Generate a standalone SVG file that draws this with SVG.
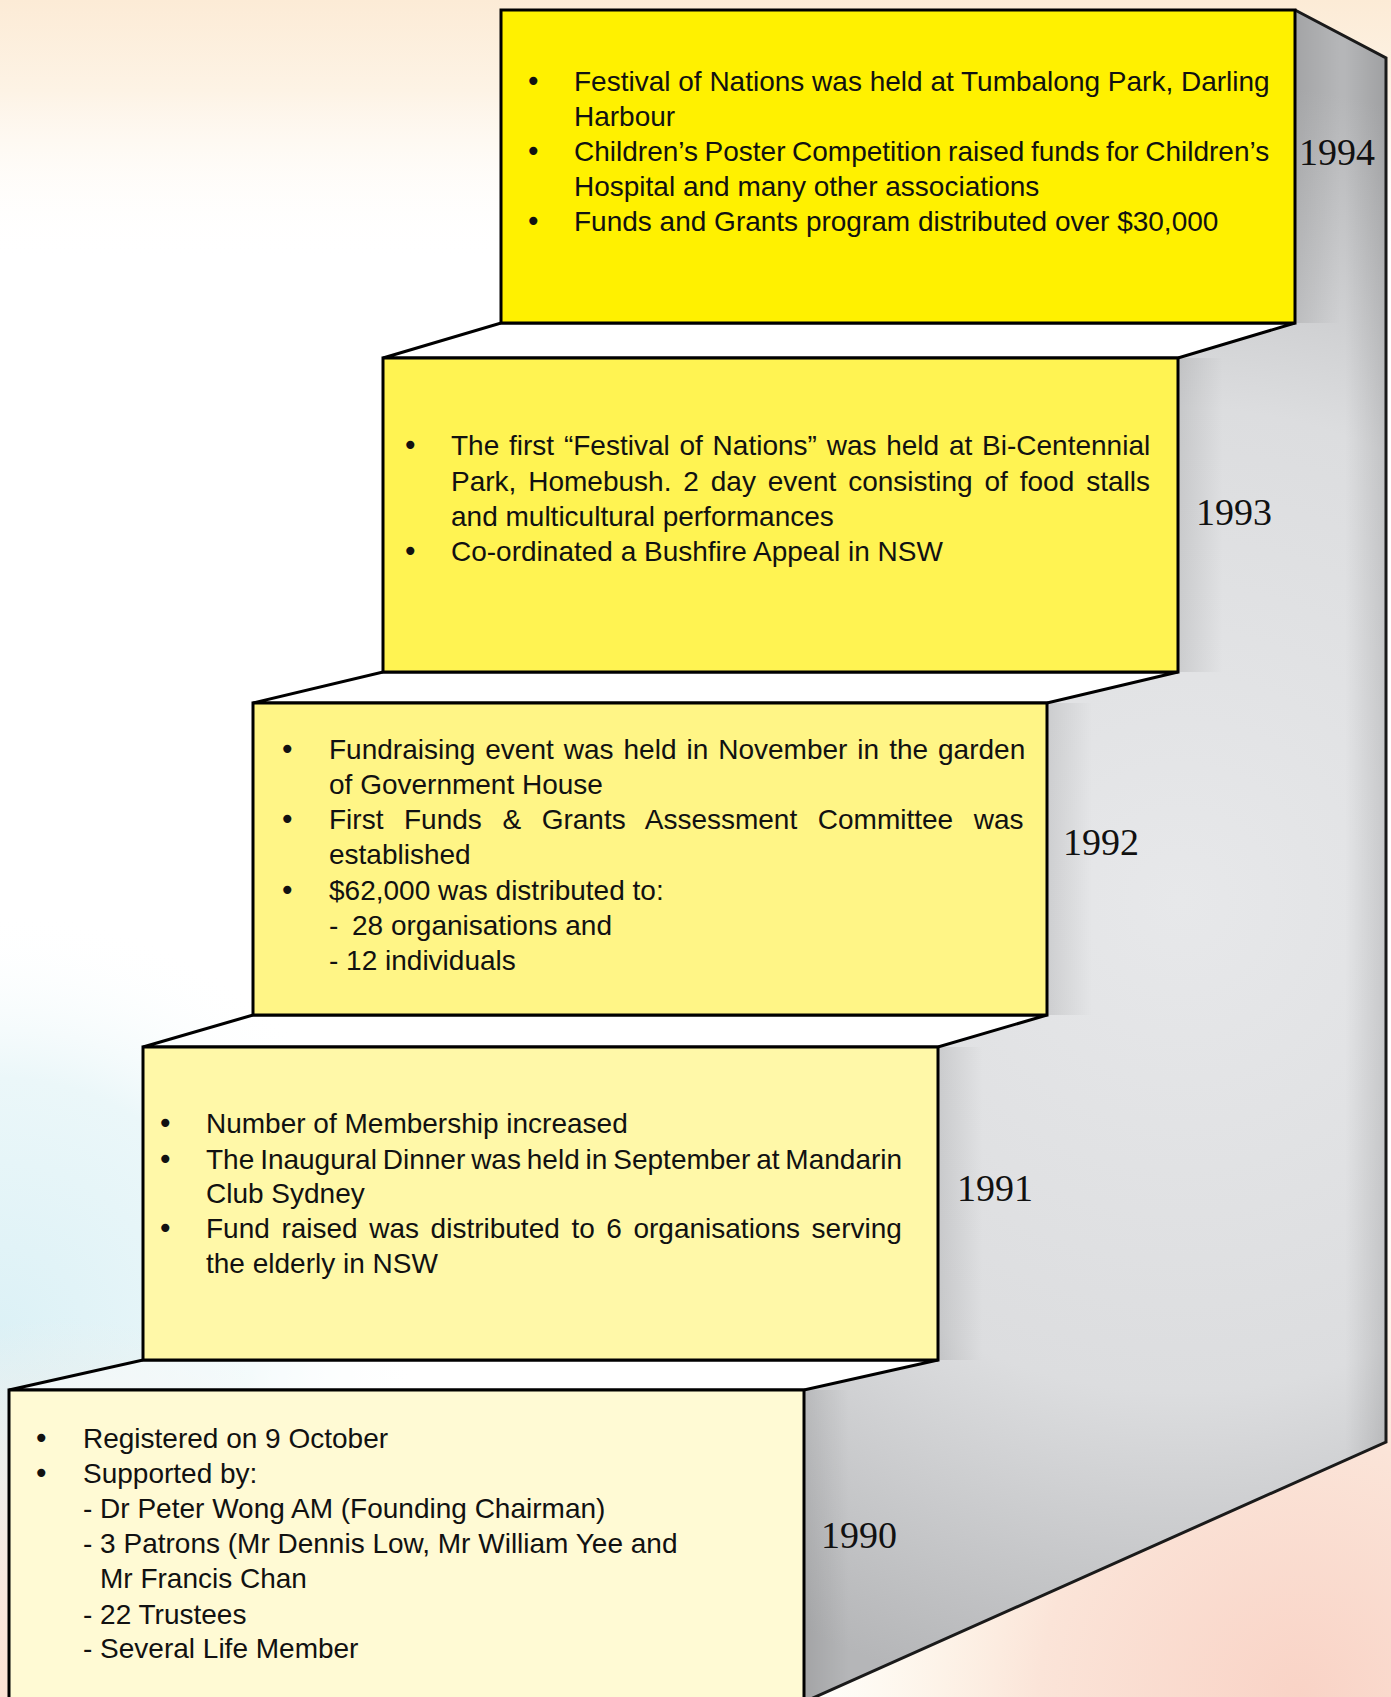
<svg xmlns="http://www.w3.org/2000/svg" width="1391" height="1697" viewBox="0 0 1391 1697">
<defs>
<linearGradient id="bgTop" x1="0" y1="0" x2="0" y2="1">
<stop offset="0" stop-color="#fcebd6"/>
<stop offset="0.35" stop-color="#fdf3e5"/>
<stop offset="1" stop-color="#ffffff" stop-opacity="0"/>
</linearGradient>
<radialGradient id="bgLeft" cx="0" cy="1330" r="420" gradientUnits="userSpaceOnUse">
<stop offset="0" stop-color="#dcf1f6"/>
<stop offset="0.6" stop-color="#ebf7f9"/>
<stop offset="1" stop-color="#ffffff" stop-opacity="0"/>
</radialGradient>
<radialGradient id="bgBL" cx="60" cy="1697" r="380" gradientUnits="userSpaceOnUse">
<stop offset="0" stop-color="#fcdccb"/>
<stop offset="1" stop-color="#fde8dc" stop-opacity="0"/>
</radialGradient>
<radialGradient id="bgBR" cx="1300" cy="1697" r="520" gradientUnits="userSpaceOnUse">
<stop offset="0" stop-color="#f9d3c6"/>
<stop offset="0.5" stop-color="#fbe4d8"/>
<stop offset="1" stop-color="#fdf6dc" stop-opacity="0"/>
</radialGradient>
<radialGradient id="side" cx="1180" cy="900" r="820" gradientUnits="userSpaceOnUse">
<stop offset="0" stop-color="#e7e8ea"/>
<stop offset="0.6" stop-color="#dcdddf"/>
<stop offset="1" stop-color="#b5b6b8"/>
</radialGradient>
<linearGradient id="rightEdge" x1="0" y1="0" x2="1" y2="0">
<stop offset="0" stop-color="#000" stop-opacity="0"/>
<stop offset="1" stop-color="#000" stop-opacity="0.12"/>
</linearGradient>
<linearGradient id="shade" x1="0" y1="0" x2="1" y2="0">
<stop offset="0" stop-color="#000" stop-opacity="0.1"/>
<stop offset="1" stop-color="#000" stop-opacity="0"/>
</linearGradient>
<clipPath id="sideClip">
<polygon points="1295,10 1386,58 1386,1442 804,1702 804,1390 938,1360 938,1047 1047,1015 1047,703 1178,672 1178,358 1295,323"/>
</clipPath>
<style>
.box{stroke:#000;stroke-width:3}
.tread{fill:#ffffff;fill-opacity:0.45;stroke:#000;stroke-width:3;stroke-linejoin:miter}
.t{font-family:"Liberation Sans",Arial,sans-serif;font-size:28px;fill:#111}
.b{font-family:"DejaVu Sans",sans-serif;font-size:28px;fill:#111}
.yr{font-family:"Liberation Serif","Times New Roman",serif;font-size:38px;fill:#111}
</style>
</defs>

<g id="background">
<rect x="0" y="0" width="1391" height="1697" fill="#ffffff"/>
<rect x="0" y="0" width="1391" height="260" fill="url(#bgTop)"/>
<rect x="0" y="800" width="500" height="897" fill="url(#bgLeft)"/>
<rect x="0" y="1300" width="500" height="397" fill="url(#bgBL)"/>
<rect x="700" y="1150" width="691" height="547" fill="url(#bgBR)"/>
</g>

<g id="side-face">
<polygon points="1295,10 1386,58 1386,1442 804,1702 804,1390 938,1360 938,1047 1047,1015 1047,703 1178,672 1178,358 1295,323" fill="url(#side)"/>
<g clip-path="url(#sideClip)">
<polygon points="1345,30 1386,58 1386,1442 1345,1462" fill="url(#rightEdge)"/>
<rect x="1295" y="10" width="45" height="313" fill="url(#shade)"/>
<rect x="1178" y="358" width="45" height="314" fill="url(#shade)"/>
<rect x="1047" y="703" width="45" height="312" fill="url(#shade)"/>
<rect x="938" y="1047" width="45" height="313" fill="url(#shade)"/>
<rect x="804" y="1390" width="45" height="312" fill="url(#shade)"/>
</g>
<path d="M1295,10 L1386,58 L1386,1442 L804,1702" fill="none" stroke="#1a1a1a" stroke-width="3"/>
</g>

<g id="connectors">
<polygon class="tread" points="383,358 501,323 1295,323 1178,358"/>
<polygon class="tread" points="253,703 383,672 1178,672 1047,703"/>
<polygon class="tread" points="143,1047 253,1015 1047,1015 938,1047"/>
<polygon class="tread" points="9,1390 143,1360 938,1360 804,1390"/>
</g>

<g id="step-1994">
<rect class="box" x="501" y="10" width="794" height="313" fill="#fff100"/>
<text class="b" x="525" y="91">•</text>
<text class="t" x="574" y="91">Festival of Nations was held at Tumbalong Park, Darling</text>
<text class="t" x="574" y="126">Harbour</text>
<text class="b" x="525" y="161">•</text>
<text class="t" x="574" y="161" word-spacing="-1.2">Children’s Poster Competition raised funds for Children’s</text>
<text class="t" x="574" y="196">Hospital and many other associations</text>
<text class="b" x="525" y="231">•</text>
<text class="t" x="574" y="231">Funds and Grants program distributed over $30,000</text>
<text class="yr" x="1299" y="165">1994</text>
</g>

<g id="step-1993">
<rect class="box" x="383" y="358" width="795" height="314" fill="#fff352"/>
<text class="b" x="402" y="455">•</text>
<text class="t" x="451" y="455" word-spacing="2">The first “Festival of Nations” was held at Bi-Centennial</text>
<text class="t" x="451" y="491" word-spacing="4.1">Park, Homebush. 2 day event consisting of food stalls</text>
<text class="t" x="451" y="526">and multicultural performances</text>
<text class="b" x="402" y="561">•</text>
<text class="t" x="451" y="561">Co-ordinated a Bushfire Appeal in NSW</text>
<text class="yr" x="1196" y="525">1993</text>
</g>

<g id="step-1992">
<rect class="box" x="253" y="703" width="794" height="312" fill="#fff586"/>
<text class="b" x="279" y="759">•</text>
<text class="t" x="329" y="759" word-spacing="2.2">Fundraising event was held in November in the garden</text>
<text class="t" x="329" y="794">of Government House</text>
<text class="b" x="279" y="829">•</text>
<text class="t" x="329" y="829" word-spacing="12.8">First Funds &amp; Grants Assessment Committee was</text>
<text class="t" x="329" y="864">established</text>
<text class="b" x="279" y="900">•</text>
<text class="t" x="329" y="900">$62,000 was distributed to:</text>
<text class="t" x="329" y="935">-</text>
<text class="t" x="352" y="935">28 organisations and</text>
<text class="t" x="329" y="970">- 12 individuals</text>
<text class="yr" x="1063" y="855">1992</text>
</g>

<g id="step-1991">
<rect class="box" x="143" y="1047" width="795" height="313" fill="#fff8a8"/>
<text class="b" x="157" y="1133">•</text>
<text class="t" x="206" y="1133">Number of Membership increased</text>
<text class="b" x="157" y="1169">•</text>
<text class="t" x="206" y="1169" word-spacing="-1.9">The Inaugural Dinner was held in September at Mandarin</text>
<text class="t" x="206" y="1203">Club Sydney</text>
<text class="b" x="157" y="1238">•</text>
<text class="t" x="206" y="1238" word-spacing="3.8">Fund raised was distributed to 6 organisations serving</text>
<text class="t" x="206" y="1273">the elderly in NSW</text>
<text class="yr" x="957" y="1201">1991</text>
</g>

<g id="step-1990">
<rect class="box" x="9" y="1390" width="795" height="320" fill="#fffad4"/>
<text class="b" x="33" y="1448">•</text>
<text class="t" x="83" y="1448">Registered on 9 October</text>
<text class="b" x="33" y="1483">•</text>
<text class="t" x="83" y="1483">Supported by:</text>
<text class="t" x="83" y="1518">- Dr Peter Wong AM (Founding Chairman)</text>
<text class="t" x="83" y="1553">- 3 Patrons (Mr Dennis Low, Mr William Yee and</text>
<text class="t" x="100" y="1588">Mr Francis Chan</text>
<text class="t" x="83" y="1624">- 22 Trustees</text>
<text class="t" x="83" y="1658">- Several Life Member</text>
<text class="yr" x="821" y="1548">1990</text>
</g>
</svg>
